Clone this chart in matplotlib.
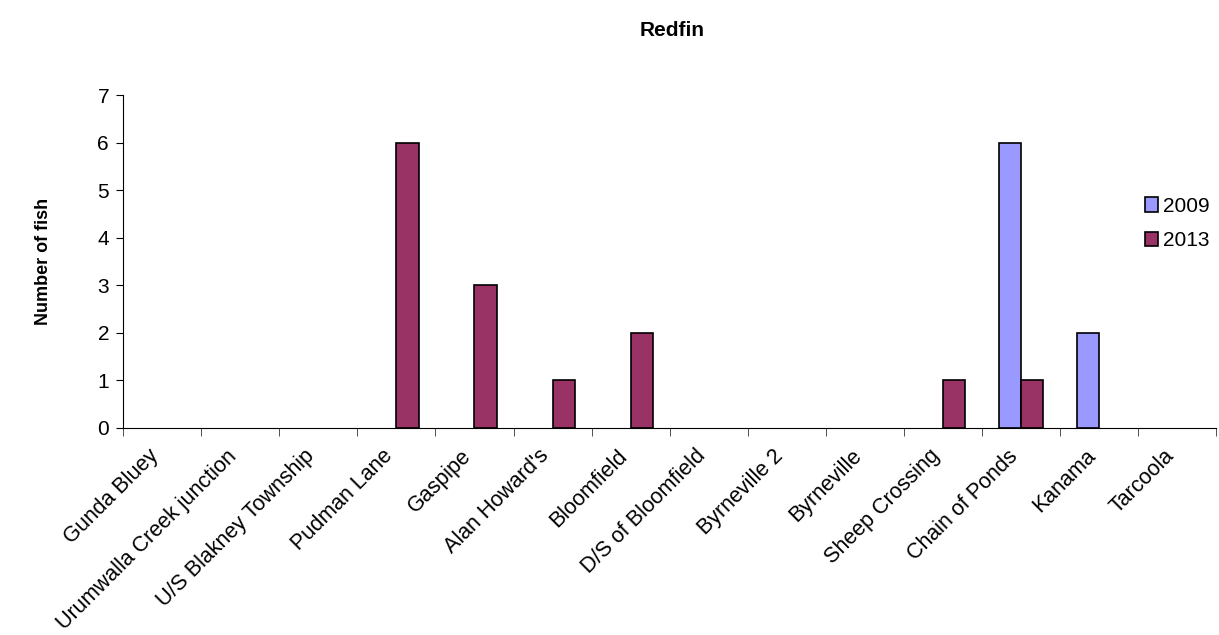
import matplotlib.pyplot as plt
from matplotlib.patches import Patch
from matplotlib.transforms import ScaledTranslation
import numpy as np

plt.rcParams['font.family'] = ['Liberation Sans', 'DejaVu Sans']

sites = ["Gunda Bluey", "Urumwalla Creek junction", "U/S Blakney Township",
         "Pudman Lane", "Gaspipe", "Alan Howard's", "Bloomfield",
         "D/S of Bloomfield", "Byrneville 2", "Byrneville", "Sheep Crossing",
         "Chain of Ponds", "Kanama", "Tarcoola"]
fish_2009 = [0, 0, 0, 0, 0, 0, 0, 0, 0, 0, 0, 6, 2, 0]
fish_2013 = [0, 0, 0, 6, 3, 1, 2, 0, 0, 0, 1, 1, 0, 0]

x = np.arange(len(sites))
w = 0.285

fig = plt.figure(figsize=(12.19, 6.35), dpi=100)
ax = fig.add_axes([0.1009, 0.326, 0.897, 0.524])

handles = []
for vals, off, col, lab in [(fish_2009, -w / 2, '#9999FF', '2009'),
                            (fish_2013, w / 2, '#993366', '2013')]:
    bars = ax.bar(x + off, vals, w, color=col, edgecolor='black', linewidth=1.2)
    for b, v in zip(bars, vals):
        if v == 0:
            b.set_visible(False)
    handles.append(Patch(facecolor=col, edgecolor='black', linewidth=1.2, label=lab))

ax.set_xlim(-0.5, len(sites) - 0.5)
ax.set_ylim(0, 7)
ax.set_yticks(range(0, 8))

ax.set_xticks(x)
ax.set_xticklabels(sites, rotation=45, ha='right', rotation_mode='anchor', fontsize=15.5)
ax.tick_params(axis='x', which='major', length=0, pad=17)
shift = ScaledTranslation(-0.14, 0.06, fig.dpi_scale_trans)
for lbl in ax.get_xticklabels():
    lbl.set_transform(lbl.get_transform() + shift)
ax.set_xticks(np.arange(-0.5, len(sites)), minor=True)
ax.tick_params(axis='x', which='minor', length=6, direction='out', color='#333333')
ax.tick_params(axis='y', length=5, direction='out', labelsize=15, pad=5)

for s in ['top', 'right']:
    ax.spines[s].set_visible(False)

ax.set_ylabel('Number of fish', fontsize=13, fontweight='bold', labelpad=33)
fig.text(0.551, 0.952, 'Redfin', fontsize=15, fontweight='bold', ha='center', va='center')

fig.legend(handles=handles, loc='upper left', bbox_to_anchor=(0.924, 0.72), frameon=False,
           fontsize=15, handlelength=0.6, handleheight=0.7, handletextpad=0.25,
           labelspacing=0.75)

fig.savefig('out.png', dpi=100)
